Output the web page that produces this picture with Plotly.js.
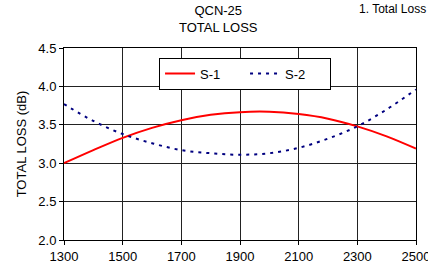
<!DOCTYPE html>
<html><head><meta charset="utf-8">
<script src="https://cdn.plot.ly/plotly-3.0.1.min.js"></script>
<style>html,body{margin:0;padding:0;background:#fff}#c{width:428px;height:272px}</style>
</head><body><div id="c"></div>
<script>
var freq = [1300,1400,1500,1600,1700,1800,1900,2000,2100,2200,2300,2400,2500];
var s1 = [3.00,3.17,3.33,3.46,3.56,3.63,3.665,3.67,3.64,3.58,3.48,3.35,3.19];
var s2 = [3.77,3.55,3.38,3.26,3.17,3.13,3.11,3.13,3.20,3.32,3.48,3.70,3.96];
var xticks = [1300,1500,1700,1900,2100,2300,2500];
var yticks = [2.0,2.5,3.0,3.5,4.0,4.5];
var f = {family:'Liberation Sans, Arial, sans-serif', size:13, color:'#000'};
Plotly.newPlot('c', [
 {x:freq, y:s1, name:'S-1', mode:'lines', line:{color:'#ff0000', width:2, shape:'spline'}},
 {x:freq, y:s2, name:'S-2', mode:'lines', line:{color:'#000080', width:2, dash:'3px,5px', shape:'spline'}}
], {
 width:428, height:272, margin:{l:64,r:12,t:48,b:32},
 paper_bgcolor:'#fff', plot_bgcolor:'#fff', font:f, showlegend:true,
 xaxis:{range:[1300,2500], tickvals:xticks, ticktext:xticks.map(String), showgrid:true, gridcolor:'#222', gridwidth:1,
   showline:true, linecolor:'#000', mirror:true, ticks:'outside', ticklen:4, tickcolor:'#000', zeroline:false, tickfont:f,
   ticklabeloverflow:'allow', fixedrange:true},
 yaxis:{range:[2.0,4.5], tickvals:yticks, ticktext:yticks.map(function(v){return v.toFixed(1);}), showgrid:true, gridcolor:'#222', gridwidth:1,
   showline:true, linecolor:'#000', mirror:true, ticks:'outside', ticklen:4, tickcolor:'#000', zeroline:false, tickfont:f,
   title:{text:'TOTAL LOSS (dB)', font:f, standoff:8}},
 legend:{orientation:'h', x:0.27, y:0.95, xanchor:'left', yanchor:'top', bgcolor:'#fff', bordercolor:'#000', borderwidth:1, font:f,
   itemwidth:30, entrywidth:40, tracegroupgap:0},
 annotations:[
  {text:'QCN-25<br>TOTAL LOSS', xref:'paper', yref:'paper', x:0.44, y:1.055, xanchor:'center', yanchor:'bottom', showarrow:false, font:f},
  {text:'1. Total Loss', xref:'paper', yref:'paper', x:1.034, y:1.205, xanchor:'right', yanchor:'middle', showarrow:false, font:{family:f.family, size:12, color:'#000'}}
 ]
}, {displayModeBar:false, staticPlot:true});
</script></body></html>
